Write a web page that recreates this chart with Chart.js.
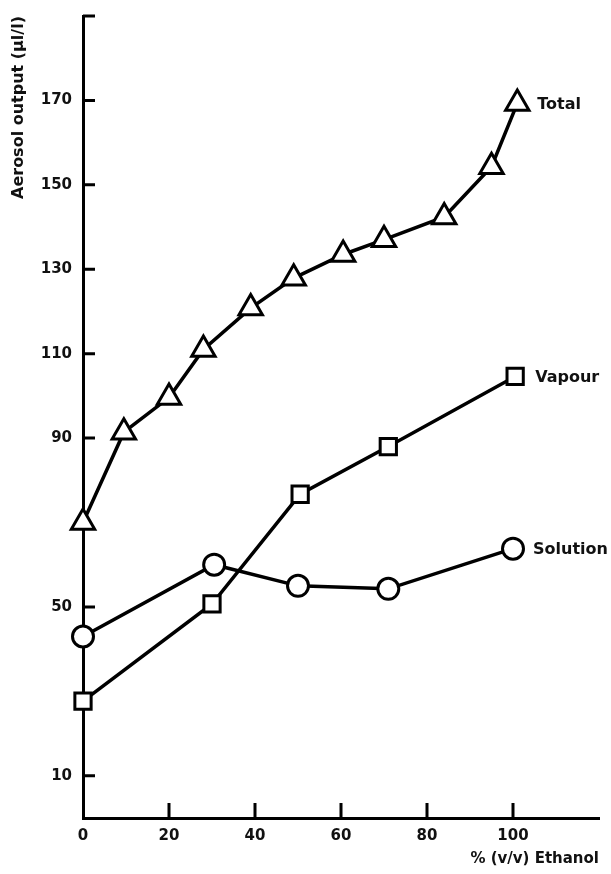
<!DOCTYPE html>
<html>
<head>
<meta charset="utf-8">
<script src="https://cdn.jsdelivr.net/npm/chart.js@4"></script>
<style>
  body { margin: 0; background: #fff; }
  canvas { display: block; }
</style>
</head>
<body>
<canvas id="aerosolChart" width="611" height="874"></canvas>
<script>
// values
const totalX    = [0, 9.5, 20, 28, 39, 49, 60.5, 70, 84, 95, 101];
const totalY    = [70, 91.4, 99.6, 111, 120.8, 127.9, 133.5, 137, 142.4, 154.3, 169.3];
const vapourX   = [0, 30, 50.5, 71, 100.5];
const vapourY   = [27.7, 50.7, 76.7, 88, 104.6];
const solutionX = [0, 30.5, 50, 71, 100];
const solutionY = [43, 60, 55, 54.3, 63.8];

const xTickValues = [0, 20, 40, 60, 80, 100];
const yTickValues = [10, 50, 90, 110, 130, 150, 170, 190];
const yTickLabels = ['10', '50', '90', '110', '130', '150', '170', ''];

function toPoints(xs, ys) {
  let pts = [];
  for (let i = 0; i < xs.length; i++) {
    pts.push({x: xs[i], y: ys[i]});
  }
  return pts;
}

function seriesStyle(label, pts, style, radius) {
  return {
    label: label,
    data: pts,
    borderColor: '#000',
    borderWidth: 3.5,
    tension: 0,
    pointStyle: style,
    pointRadius: radius,
    pointHoverRadius: radius,
    pointBackgroundColor: '#fff',
    pointBorderColor: '#000',
    pointBorderWidth: 3,
    clip: false
  };
}

// tick marks point into the plot, as in the original
const innerTicks = {
  id: 'innerTicks',
  beforeDatasetsDraw(chart) {
    let ctx = chart.ctx;
    let xs = chart.scales.x, ys = chart.scales.y;
    let x0 = xs.getPixelForValue(0);
    let y0 = ys.getPixelForValue(0);
    ctx.save();
    ctx.strokeStyle = '#000';
    ctx.lineWidth = 3;
    ctx.beginPath();
    yTickValues.forEach(v => {
      let py = ys.getPixelForValue(v);
      ctx.moveTo(x0, py);
      ctx.lineTo(x0 + 12, py);
    });
    xTickValues.forEach(v => {
      if (v == 0) return;
      let px = xs.getPixelForValue(v);
      ctx.moveTo(px, y0);
      ctx.lineTo(px, y0 - 15);
    });
    ctx.stroke();
    ctx.restore();
  }
};

// series names written next to the last point of each line
const endLabels = {
  id: 'endLabels',
  afterDatasetsDraw(chart) {
    let ctx = chart.ctx;
    ctx.save();
    ctx.fillStyle = '#111';
    ctx.font = 'bold 16px "DejaVu Sans"';
    ctx.textBaseline = 'middle';
    chart.data.datasets.forEach((ds, i) => {
      let meta = chart.getDatasetMeta(i);
      let last = meta.data[meta.data.length - 1];
      ctx.fillText(ds.label, last.x + 20, last.y + 1);
    });
    ctx.restore();
  }
};

let ctx = document.getElementById('aerosolChart').getContext('2d');
let myChart = new Chart(ctx, {
  type: 'line',
  data: {
    datasets: [
      seriesStyle('Total', toPoints(totalX, totalY), 'triangle', 13.5),
      seriesStyle('Vapour', toPoints(vapourX, vapourY), 'rect', 11.5),
      seriesStyle('Solution', toPoints(solutionX, solutionY), 'circle', 10.5)
    ]
  },
  options: {
    responsive: false,
    animation: false,
    layout: { autoPadding: false, padding: { left: 0, right: 12, top: 16, bottom: 0 } },
    plugins: {
      legend: { display: false },
      tooltip: { enabled: false }
    },
    scales: {
      x: {
        type: 'linear',
        min: 0,
        max: 120,
        afterBuildTicks: s => { s.ticks = xTickValues.map(v => ({value: v})); },
        afterFit: s => { s.height = 56; s.paddingLeft = 0; s.paddingRight = 0; },
        grid: { drawOnChartArea: false, drawTicks: false },
        border: { color: '#000', width: 3 },
        ticks: {
          color: '#111',
          font: { family: 'DejaVu Sans', size: 15, weight: 'bold' },
          padding: 9,
          maxRotation: 0,
          autoSkip: false
        },
        title: {
          display: true,
          text: '% (v/v) Ethanol',
          align: 'end',
          color: '#111',
          font: { family: 'DejaVu Sans', size: 15, weight: 'bold' },
          padding: { top: 0, bottom: 6 }
        }
      },
      y: {
        min: 0,
        max: 190,
        afterBuildTicks: s => { s.ticks = yTickValues.map(v => ({value: v})); },
        afterFit: s => { s.width = 83; s.paddingTop = 0; s.paddingBottom = 0; },
        grid: { drawOnChartArea: false, drawTicks: false },
        border: { color: '#000', width: 3 },
        ticks: {
          color: '#111',
          font: { family: 'DejaVu Sans', size: 15, weight: 'bold' },
          padding: 11,
          autoSkip: false,
          callback: function(value, index) { return yTickLabels[index]; }
        },
        title: {
          display: true,
          text: 'Aerosol output (µl/l)',
          align: 'end',
          color: '#111',
          font: { family: 'DejaVu Sans', size: 16, weight: 'bold' },
          padding: { top: 9, bottom: 0 }
        }
      }
    }
  },
  plugins: [innerTicks, endLabels]
});
</script>
</body>
</html>
